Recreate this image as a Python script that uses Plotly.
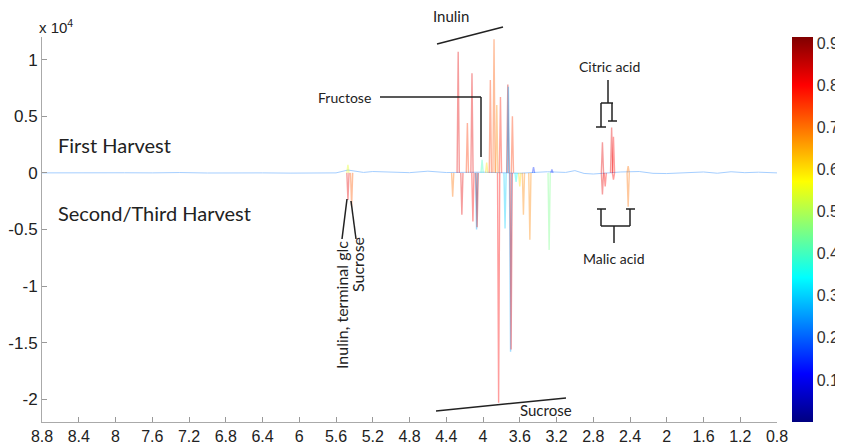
import plotly.graph_objects as go
from plotly.colors import sample_colorscale

# ---------------- data ----------------
# NMR loading peaks: chemical shift (ppm), loading intensity, correlation (colour)
peak_ppm = [4.33, 4.27, 4.23, 4.17, 4.12, 4.11, 4.07, 4.064, 4.01, 3.96,
            3.92, 3.88, 3.85, 3.83, 3.81, 3.76, 3.73, 3.724, 3.70, 3.694,
            3.68, 3.64, 3.60, 3.56, 3.49, 3.45, 3.28, 3.25,
            2.70, 2.70, 2.67, 2.60, 2.58, 2.58, 2.42, 2.42,
            5.47, 5.47, 5.43]
peak_int = [-2100, 10700, -3700, 4400, 8800, -4300, -5000, -4800, 1150, 900,
            8200, 11800, 6000, -20300, 6700, -4900, 7800, 7600, -15800, -15600,
            5000, -800, -1200, -3700, -5900, 500, -6800, 300,
            2700, -1900, -1200, 4000, 3200, -600, -3000, 600,
            700, -2400, -3000]
peak_corr = [0.70, 0.82, 0.82, 0.75, 0.82, 0.80, 0.26, 0.85, 0.40, 0.60,
             0.75, 0.72, 0.68, 0.80, 0.78, 0.30, 0.85, 0.26, 0.26, 0.80,
             0.75, 0.35, 0.60, 0.68, 0.68, 0.15, 0.45, 0.15,
             0.82, 0.82, 0.80, 0.82, 0.80, 0.80, 0.70, 0.70,
             0.55, 0.82, 0.72]

# baseline of the loading spectrum
baseline_ppm = [8.8, 8.5, 8.2, 7.9, 7.6, 7.3, 7.0, 6.7, 6.4, 6.1, 5.8, 5.6,
                5.47, 5.3, 5.2, 5.0, 4.8, 4.6, 4.4, 4.0, 3.6, 3.3, 3.1, 3.0,
                2.9, 2.8, 2.5, 2.3, 2.15, 2.0, 1.8, 1.6, 1.45, 1.3, 1.15, 1.0, 0.8]
baseline_int = [0, 20, -20, 10, 0, 30, -10, 20, 0, -20, 30, 0,
                250, 40, 120, 100, 20, 150, 30, 60, -30, 100, 40, 200,
                -50, -100, 80, 120, -40, -60, 40, 80, -30, 100, 20, 60, 0]
baseline_corr = 0.22

x_ticks = [8.8, 8.4, 8.0, 7.6, 7.2, 6.8, 6.4, 6.0, 5.6, 5.2, 4.8,
           4.4, 4.0, 3.6, 3.2, 2.8, 2.4, 2.0, 1.6, 1.2, 0.8]
y_ticks = [-20000, -15000, -10000, -5000, 0, 5000, 10000]
y_ticktext = ["-2", "-1.5", "-1", "-0.5", "0", "0.5", "1"]
cbar_ticks = [0.1, 0.2, 0.3, 0.4, 0.5, 0.6, 0.7, 0.8, 0.9]

# ---------------- style ----------------
JET = [[0.0, "rgb(0,0,128)"], [0.125, "rgb(0,0,255)"], [0.375, "rgb(0,255,255)"],
       [0.625, "rgb(255,255,0)"], [0.875, "rgb(255,0,0)"], [1.0, "rgb(128,0,0)"]]
CMIN, CMAX = 0.0, 0.915
HALF_W = 0.012  # peak half width in ppm
TXT_FONT = "Lato"
AX_FONT = "Liberation Sans"

# page body has an 8 px margin: figure is drawn 8 px right/down of the window origin
OFF = 8
W, H = 843 - OFF, 444 - OFF
PL, PR, PT, PB = 42, 777, 37, 422          # plot area in window pixels
L, T = PL - OFF, PT - OFF
PW, PH = PR - PL, PB - PT
R, B = W - L - PW, H - T - PH


def cval(c):
    return sample_colorscale(JET, [(c - CMIN) / (CMAX - CMIN)])[0]


def px(x):
    return (x - PL) / PW


def py(y):
    return (PB - y) / PH


fig = go.Figure()

fig.add_trace(go.Scatter(x=baseline_ppm, y=baseline_int, mode="lines",
                         line=dict(color=cval(baseline_corr), width=1),
                         opacity=0.35, hoverinfo="skip", showlegend=False))

for p, h, c in zip(peak_ppm, peak_int, peak_corr):
    fig.add_trace(go.Scatter(x=[p + HALF_W, p, p - HALF_W], y=[0, h, 0], mode="lines",
                             line=dict(color=cval(c), width=1.4),
                             opacity=0.38, hoverinfo="skip", showlegend=False))

# colour bar
fig.add_trace(go.Scatter(x=[None], y=[None], mode="markers", showlegend=False,
                         marker=dict(color=[CMIN], colorscale=JET, cmin=CMIN, cmax=CMAX,
                                     showscale=True,
                                     colorbar=dict(x=px(792), xanchor="left", xref="paper",
                                                   y=0.5, yanchor="middle", len=1,
                                                   thickness=21, outlinewidth=0, xpad=0, ypad=0,
                                                   tickvals=cbar_ticks,
                                                   ticktext=[f"{v:g}" for v in cbar_ticks],
                                                   ticks="",
                                                   tickfont=dict(family=AX_FONT, size=16,
                                                                 color="#333")))))

# ---------------- annotations ----------------
ann = []


def text(x, y, s, size=14, angle=0, anchor="center", family=TXT_FONT):
    ann.append(dict(x=px(x), y=py(y), xref="paper", yref="paper", text=s, showarrow=False,
                    textangle=angle, xanchor=anchor, yanchor="middle",
                    font=dict(family=family, size=size, color="#222")))


text(37, 27, "x 10<sup>4</sup>", size=15, anchor="left", family=AX_FONT)
text(56, 145, "First Harvest", size=20, anchor="left")
text(56, 213, "Second/Third Harvest", size=20, anchor="left")
text(451, 16, "Inulin", size=15)
text(373, 97, "Fructose", anchor="right")
text(609, 66, "Citric acid")
text(614, 258, "Malic acid")
text(546, 410, "Sucrose", size=15)
text(341, 305, "Inulin, terminal glc", size=16, angle=-90)
text(357, 265, "Sucrose", size=16, angle=-90)

segments = [
    ((437, 44), (503, 27)),           # inulin
    ((380, 97), (481, 97)), ((481, 97), (481, 157)),  # fructose
    ((436, 411), (566, 398)),         # sucrose bottom
    ((347, 199), (342, 239)), ((351, 201), (356, 239)),  # glc / sucrose
    # citric acid bracket
    ((608, 80), (608, 103)), ((601, 103), (613, 103)),
    ((601, 103), (601, 127)), ((612, 103), (612, 121)),
    ((596, 127), (606, 127)), ((608, 121), (617, 121)),
    # malic acid bracket
    ((597, 209), (606, 209)), ((626, 209), (635, 209)),
    ((601, 209), (601, 226)), ((630, 209), (630, 226)),
    ((601, 226), (630, 226)), ((614, 226), (614, 243)),
]
shapes = [dict(type="line", xref="paper", yref="paper", x0=px(a[0]), y0=py(a[1]),
               x1=px(b[0]), y1=py(b[1]), line=dict(color="#222", width=1.5))
          for a, b in segments]

fig.update_layout(
    width=W, height=H, margin=dict(l=L, r=R, t=T, b=B, autoexpand=False),
    paper_bgcolor="white", plot_bgcolor="white",
    annotations=ann, shapes=shapes, showlegend=False,
    xaxis=dict(range=[8.8, 0.8], tickvals=x_ticks, ticktext=[f"{v:g}" for v in x_ticks],
               ticks="inside", ticklen=5, tickcolor="#999", showline=True,
               linecolor="#aaa", linewidth=1, showgrid=False, zeroline=False,
               tickfont=dict(family=AX_FONT, size=16, color="#222")),
    yaxis=dict(range=[-22000, 12000], tickvals=y_ticks, ticktext=y_ticktext,
               ticks="inside", ticklen=5, tickcolor="#999", showline=True,
               linecolor="#aaa", linewidth=1, showgrid=False, zeroline=False,
               tickfont=dict(family=AX_FONT, size=17, color="#222")),
)

fig.write_html("out.html")
